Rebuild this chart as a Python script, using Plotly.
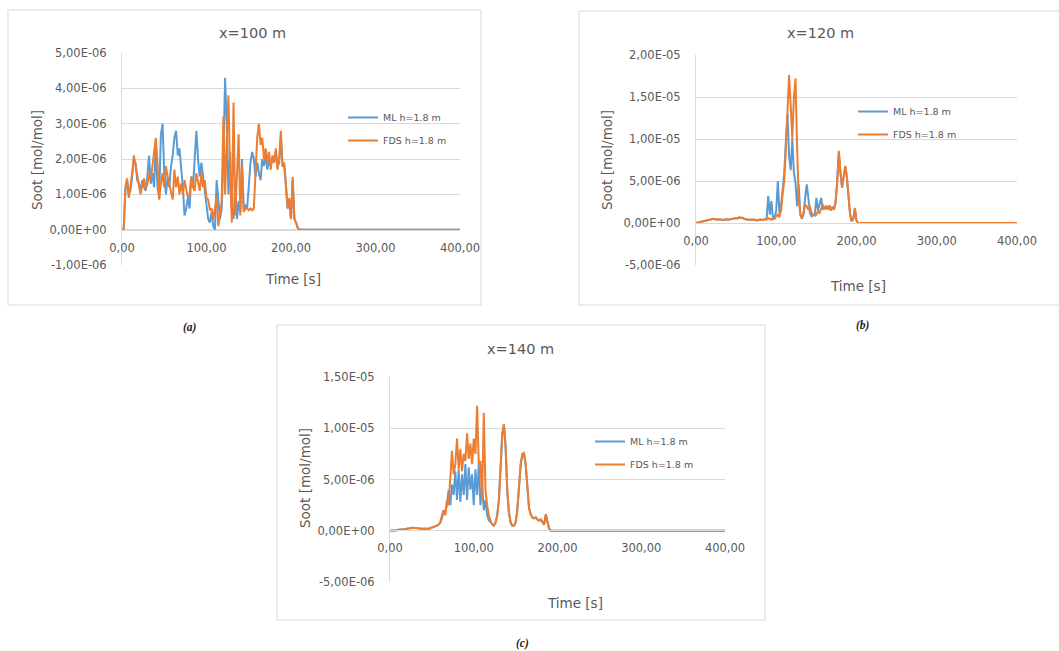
import plotly.graph_objects as go

W, H = 1059, 651

# ---------------- data ----------------
time_s = [0, 2, 4, 6, 8, 10, 12, 14, 16, 18,
          20, 22, 24, 26, 28, 30, 32, 34, 36, 38,
          40, 42, 44, 46, 48, 50, 52, 54, 56, 58,
          60, 62, 64, 66, 68, 70, 72, 74, 76, 78,
          80, 82, 84, 86, 88, 90, 92, 94, 96, 98,
          100, 102, 104, 106, 108, 110, 112, 114, 116, 118,
          120, 122, 124, 126, 128, 130, 132, 134, 136, 138,
          140, 142, 144, 146, 148, 150, 152, 154, 156, 158,
          160, 162, 164, 166, 168, 170, 172, 174, 176, 178,
          180, 182, 184, 186, 188, 190, 192, 194, 196, 198,
          200, 202, 204, 206, 208, 210, 212, 214, 216, 218,
          220, 400]

# soot values in units of 1E-06 mol/mol
ml_100 = [0, 0, 1.1, 1.4, 1.0, 1.1, 1.5, 2.0, 1.9, 1.4,
          1.3, 1.1, 1.4, 1.2, 1.1, 1.5, 2.1, 1.3, 1.6, 1.2,
          2.4, 1.2, 0.9, 2.7, 3.0, 1.6, 1.0, 1.5, 1.2, 1.8,
          2.1, 2.6, 2.8, 2.1, 2.3, 1.8, 1.2, 0.4, 0.6, 0.9,
          0.6, 1.5, 1.2, 2.0, 2.8, 2.0, 1.5, 1.9, 1.5, 1.1,
          0.6, 0.3, 0.2, 0.5, 0.1, 0.0, 1.4, 0.8, 0.3, 0.6,
          2.0, 4.3, 3.0, 1.0, 2.2, 0.5, 0.3, 1.2, 0.3, 0.8,
          0.5, 2.0, 0.6, 0.7, 0.6, 1.2, 1.9, 2.2, 2.0, 1.5,
          1.9, 1.6, 1.4, 2.0, 1.8, 2.1, 1.7, 2.0, 1.8, 2.0,
          1.9, 2.2, 1.8, 1.9, 2.6, 1.8, 1.8, 1.2, 0.6, 0.8,
          0.3, 1.4, 0.3, 0.2, 0.05, 0, 0, 0, 0, 0,
          0, 0]
fds_100 = [0, 0, 1.2, 1.45, 0.9, 1.2, 1.6, 2.1, 1.8, 1.5,
           1.2, 1.0, 1.3, 1.45, 1.15, 1.3, 1.6, 1.4, 1.8, 2.3,
           2.6, 1.9, 0.85, 1.3, 1.6, 1.2, 1.8, 1.5, 1.3, 1.1,
           0.85, 1.7, 1.2, 1.5, 1.0, 1.3, 1.0, 1.4, 1.1, 0.9,
           1.0, 1.5, 1.2, 1.1, 1.6, 1.3, 1.1, 1.6, 1.2, 1.4,
           0.9, 0.85, 0.55, 0.6, 0.3, 0.6, 0.95, 0.1, 0.4, 0.8,
           3.2, 1.0, 2.5, 3.8, 1.5, 0.2, 3.6, 0.4, 1.5, 2.7,
           0.4, 1.8, 0.5, 0.6, 0.6, 0.55, 0.6, 0.55, 0.6, 1.6,
           2.6, 3.0, 2.4, 2.6, 2.0, 2.3, 1.9, 2.2, 1.7, 2.1,
           1.9, 2.3, 1.7, 2.0, 2.8, 1.8, 1.9, 1.3, 0.6, 0.9,
           0.3, 1.5, 0.3, 0.2, 0.05, 0, 0, 0, 0, 0,
           0, 0]

ml_120 = [0.0, 0.05, 0.1, 0.15, 0.2, 0.25, 0.3, 0.3, 0.35, 0.4,
          0.45, 0.5, 0.45, 0.4, 0.45, 0.4, 0.4, 0.35, 0.4, 0.45,
          0.4, 0.45, 0.5, 0.5, 0.55, 0.6, 0.55, 0.65, 0.6, 0.6,
          0.5, 0.45, 0.4, 0.35, 0.4, 0.35, 0.4, 0.35, 0.3, 0.35,
          0.4, 0.35, 0.4, 0.45, 0.5, 3.2, 1.0, 2.6, 0.5, 0.6,
          1.5, 5.0, 1.2, 2.0, 4.0, 6.0, 9.8, 13.0, 8.0, 6.3,
          10.0, 6.0, 4.8, 2.0, 4.6, 1.0, 0.5, 1.0, 3.0, 4.6,
          3.0, 1.2, 0.8, 1.0, 0.9, 3.0, 1.5, 2.4, 3.0, 1.6,
          1.8, 2.0, 1.6, 2.1, 1.5, 1.9, 1.6, 2.5, 5.0, 8.5,
          6.0, 4.2, 5.5, 6.7, 5.5, 3.2, 1.0, 0.2, 0.5, 1.7,
          0.3, 0.0, 0, 0, 0, 0, 0, 0, 0, 0,
          0, 0]
fds_120 = [0.0, 0.05, 0.1, 0.15, 0.2, 0.25, 0.3, 0.3, 0.35, 0.4,
           0.45, 0.5, 0.45, 0.4, 0.45, 0.4, 0.4, 0.35, 0.4, 0.45,
           0.4, 0.45, 0.5, 0.5, 0.55, 0.6, 0.55, 0.7, 0.6, 0.65,
           0.5, 0.45, 0.4, 0.35, 0.4, 0.35, 0.4, 0.35, 0.3, 0.35,
           0.4, 0.35, 0.4, 0.45, 0.4, 0.6, 0.5, 0.4, 0.6, 0.5,
           0.8, 1.0, 0.7, 1.5, 3.5, 5.0, 9.0, 13.0, 17.6, 14.0,
           10.0, 15.0, 17.2, 9.0, 3.0, 1.0, 0.6, 1.2, 2.2, 2.0,
           1.6, 2.0, 1.2, 0.9, 1.1, 1.0, 1.4, 1.2, 1.8, 2.2,
           1.6, 2.0, 1.7, 2.1, 1.5, 1.9, 1.6, 2.5, 5.0, 8.6,
           6.0, 4.2, 5.5, 6.8, 5.5, 3.2, 1.0, 0.2, 0.5, 1.8,
           0.3, 0.0, 0, 0, 0, 0, 0, 0, 0, 0,
           0, 0]

ml_140 = [0, 0, 0, 0.05, 0.05, 0.1, 0.1, 0.1, 0.15, 0.15,
          0.2, 0.2, 0.25, 0.3, 0.3, 0.3, 0.25, 0.25, 0.2, 0.2,
          0.2, 0.15, 0.15, 0.2, 0.25, 0.3, 0.35, 0.4, 0.5, 0.6,
          0.8, 1.2, 2.0, 1.8, 2.5, 4.0, 2.5, 4.5, 3.5, 5.8,
          3.0, 6.0, 2.8, 5.5, 3.5, 6.5, 3.0, 6.2, 4.0, 5.5,
          2.5, 6.0, 3.5, 6.5, 2.5, 4.5, 2.0, 3.0, 1.5, 1.0,
          0.8, 0.6, 0.5, 0.8, 1.5, 3.0, 6.0, 9.3, 10.3, 8.0,
          3.8, 1.8, 0.8, 0.5, 0.5, 0.8, 2.0, 4.0, 6.4, 7.4,
          7.5, 6.4, 4.0, 2.2, 1.6, 1.3, 1.2, 1.3, 1.1, 1.0,
          1.1, 0.8, 0.6, 1.6, 0.8, 0.2, 0.0, 0, 0, 0,
          0, 0, 0, 0, 0, 0, 0, 0, 0, 0,
          0, 0]
fds_140 = [0, 0, 0, 0.05, 0.05, 0.1, 0.1, 0.1, 0.15, 0.15,
           0.2, 0.2, 0.25, 0.3, 0.3, 0.3, 0.25, 0.25, 0.2, 0.2,
           0.2, 0.15, 0.15, 0.2, 0.25, 0.3, 0.35, 0.4, 0.5, 0.6,
           0.8, 1.5, 2.0, 1.5, 3.0, 2.5, 5.0, 7.8, 5.5, 6.5,
           9.0, 6.0, 8.0, 5.8, 7.5, 6.8, 9.5, 7.0, 8.5, 6.5,
           9.0, 7.5, 12.2, 6.5, 6.8, 3.0, 11.5, 4.0, 2.5, 1.5,
           1.0, 0.6, 0.5, 0.8, 1.5, 3.0, 6.0, 9.5, 10.4, 8.5,
           4.0, 1.8, 0.8, 0.5, 0.5, 0.8, 2.0, 4.0, 6.5, 7.5,
           7.6, 6.5, 4.0, 2.2, 1.6, 1.3, 1.2, 1.3, 1.1, 1.0,
           1.1, 0.8, 0.6, 1.6, 0.8, 0.2, 0.0, 0, 0, 0,
           0, 0, 0, 0, 0, 0, 0, 0, 0, 0,
           0, 0]

x_tickvals = [0, 100, 200, 300, 400]
x_ticktext = ["0,00", "100,00", "200,00", "300,00", "400,00"]

y_ticks_100 = [-1e-6, 0, 1e-6, 2e-6, 3e-6, 4e-6, 5e-6]
y_text_100 = ["-1,00E-06", "0,00E+00", "1,00E-06", "2,00E-06", "3,00E-06", "4,00E-06", "5,00E-06"]
y_ticks_120 = [-5e-6, 0, 5e-6, 1e-5, 1.5e-5, 2e-5]
y_text_120 = ["-5,00E-06", "0,00E+00", "5,00E-06", "1,00E-05", "1,50E-05", "2,00E-05"]
y_ticks_140 = [-5e-6, 0, 5e-6, 1e-5, 1.5e-5]
y_text_140 = ["-5,00E-06", "0,00E+00", "5,00E-06", "1,00E-05", "1,50E-05"]

titles = ["x=100 m", "x=120 m", "x=140 m"]
sub_labels = ["(a)", "(b)", "(c)"]
series_names = ["ML h=1.8 m", "FDS h=1.8 m"]

# ---------------- style / layout ----------------
FONT = "DejaVu Sans"
TXT = "#595959"
GRID = "#D9D9D9"
BLUE = "#5B9BD5"
ORANGE = "#ED7D31"


def fx(px):
    return px / W


def fy(py):
    return 1 - py / H


panels = [
    dict(ml=ml_100, fds=fds_100, yt=y_ticks_100, ytx=y_text_100, yr=[-1e-6, 5e-6],
         x0=122, x1=460, ytop=53, ybot=265, y0px=230,
         box=(8, 10, 481, 305), title=(252, 33), ytitle=(37, 160), xtitle=(293, 279),
         leg=(343, 103), sub=(190, 327)),
    dict(ml=ml_120, fds=fds_120, yt=y_ticks_120, ytx=y_text_120, yr=[-5e-6, 2e-5],
         x0=696, x1=1017, ytop=55, ybot=265, y0px=223.3,
         box=(579, 11, 1062, 305), title=(820, 33), ytitle=(607, 160), xtitle=(858, 286),
         leg=(853, 97), sub=(863, 325)),
    dict(ml=ml_140, fds=fds_140, yt=y_ticks_140, ytx=y_text_140, yr=[-5e-6, 1.5e-5],
         x0=390, x1=725, ytop=377, ybot=582, y0px=530,
         box=(277, 325, 765, 620), title=(520, 349), ytitle=(305, 478), xtitle=(575, 603),
         leg=(590, 427), sub=(522, 643)),
]

fig = go.Figure()
shapes = []
annotations = []
layout_axes = {}

for i, p in enumerate(panels):
    n = "" if i == 0 else str(i + 1)
    legname = "legend" + n
    for name, vals, col in [(series_names[0], p["ml"], BLUE), (series_names[1], p["fds"], ORANGE)]:
        fig.add_trace(go.Scatter(
            x=time_s, y=[v * 1e-6 for v in vals], mode="lines", name=name,
            line=dict(color=col, width=2), xaxis="x" + n, yaxis="y" + n,
            legend=legname, legendgroup=f"{legname}_{name}", showlegend=True))

    layout_axes["xaxis" + n] = dict(
        domain=[fx(p["x0"]), fx(p["x1"])], range=[0, 400], anchor="free",
        position=fy(p["y0px"]), showgrid=False, zeroline=False,
        showline=True, linecolor=GRID, linewidth=1, automargin=False,
        tickvals=x_tickvals, ticktext=x_ticktext, ticks="",
        ticklabelstandoff=7,
        tickfont=dict(family=FONT, size=11.5, color=TXT))
    layout_axes["yaxis" + n] = dict(
        domain=[fy(p["ybot"]), fy(p["ytop"])], range=p["yr"], anchor="x" + n,
        tickvals=p["yt"], ticktext=p["ytx"], ticks="", automargin=False,
        showgrid=True, gridcolor=GRID, gridwidth=1, zeroline=False,
        showline=True, linecolor=GRID, linewidth=1,
        ticklabelstandoff=12,
        tickfont=dict(family=FONT, size=11.5, color=TXT))
    layout_axes[legname] = dict(
        x=fx(p["leg"][0]), y=fy(p["leg"][1]), xanchor="left", yanchor="top",
        bgcolor="rgba(0,0,0,0)", font=dict(family=FONT, size=9.5, color=TXT),
        tracegroupgap=4, itemwidth=30)

    bx0, by0, bx1, by1 = p["box"]
    shapes.append(dict(type="rect", xref="paper", yref="paper",
                       x0=fx(bx0), x1=fx(bx1), y0=fy(by1), y1=fy(by0),
                       line=dict(color=GRID, width=1), layer="below"))
    annotations.append(dict(text=titles[i], x=fx(p["title"][0]), y=fy(p["title"][1]),
                            xref="paper", yref="paper", showarrow=False,
                            xanchor="center", yanchor="middle",
                            font=dict(family=FONT, size=14.5, color=TXT)))
    annotations.append(dict(text="Soot [mol/mol]", x=fx(p["ytitle"][0]), y=fy(p["ytitle"][1]),
                            xref="paper", yref="paper", showarrow=False, textangle=-90,
                            xanchor="center", yanchor="middle",
                            font=dict(family=FONT, size=13.5, color=TXT)))
    annotations.append(dict(text="Time [s]", x=fx(p["xtitle"][0]), y=fy(p["xtitle"][1]),
                            xref="paper", yref="paper", showarrow=False,
                            xanchor="center", yanchor="middle",
                            font=dict(family=FONT, size=13.5, color=TXT)))
    annotations.append(dict(text="<b><i>" + sub_labels[i] + "</i></b>", x=fx(p["sub"][0]), y=fy(p["sub"][1]),
                            xref="paper", yref="paper", showarrow=False,
                            xanchor="center", yanchor="middle",
                            font=dict(family="Liberation Serif", size=11.5, color="#222222")))

fig.update_layout(
    width=W, height=H, margin=dict(l=0, r=0, t=0, b=0, pad=0, autoexpand=False),
    paper_bgcolor="white", plot_bgcolor="white",
    showlegend=True, shapes=shapes, annotations=annotations,
    **layout_axes)

fig.write_html("out.html", config={"displayModeBar": False},
               post_script="document.body.style.margin='0';document.body.style.overflow='hidden';")
